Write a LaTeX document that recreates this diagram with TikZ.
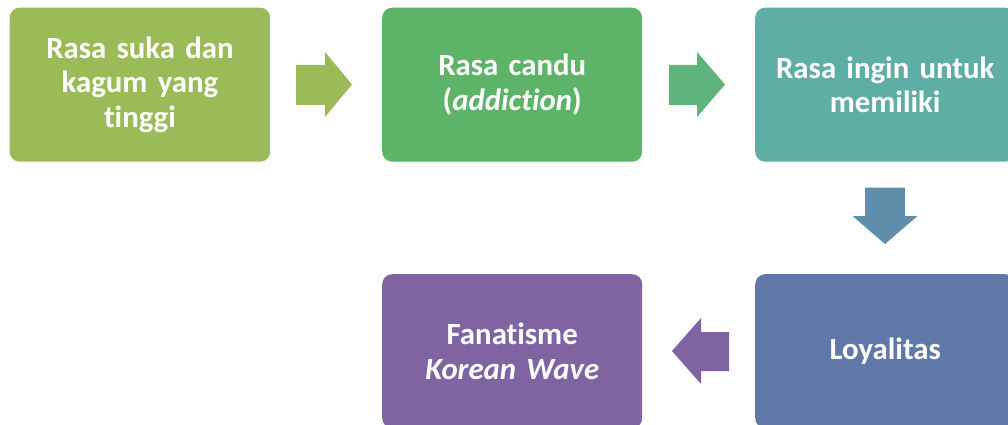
\documentclass[tikz,border=0pt]{standalone}
\usepackage{fontspec}
\setmainfont{Carlito}[Ligatures=NoCommon]
\definecolor{cA}{HTML}{9BBB59}
\definecolor{cB}{HTML}{5DB468}
\definecolor{cAB}{HTML}{5EB47B}
\definecolor{cC}{HTML}{5FAEA6}
\definecolor{cCD}{HTML}{5F8EAB}
\definecolor{cD}{HTML}{6078A8}
\definecolor{cE}{HTML}{8064A2}
\tikzset{
  box/.style={rounded corners=10pt, minimum width=260pt, minimum height=154pt,
    text=white, font=\fontsize{30.8}{34.5}\selectfont\bfseries, align=center,
    anchor=north west, inner sep=0pt, text width=255pt},
  blockarrow/.style={draw=none}
}
\begin{document}
\begin{tikzpicture}[x=1pt,y=-1pt]
\useasboundingbox (0,0) rectangle (1008,425);
\clip (0,0) rectangle (1008,425);
\node[box, fill=cA, minimum width=260.5pt] (b1) at (9.5,7.5) {Rasa suka dan\\kagum yang\\tinggi};
\node[box, fill=cB] (b2) at (382,7.5) {Rasa candu\\(\textit{addiction})};
\node[box, fill=cC] (b3) at (755,7.5) {Rasa ingin untuk\\memiliki};
\node[box, fill=cD] (b4) at (755,274) {Loyalitas};
\node[box, fill=cE] (b5) at (382,274) {Fanatisme\\\textit{Korean Wave}};
\fill[cA] (296,65) -- (325,65) -- (325,52) -- (352,84.5) -- (325,117) -- (325,105) -- (296,105) -- cycle;
\fill[cAB] (669,65) -- (697,65) -- (697,52) -- (725,84.5) -- (697,117) -- (697,105) -- (669,105) -- cycle;
\fill[cCD] (865,187.5) -- (905,187.5) -- (905,216) -- (917.5,216) -- (885,244) -- (852.5,216) -- (865,216) -- cycle;
\fill[cE] (729,332) -- (701,332) -- (701,318) -- (672,351) -- (701,384) -- (701,371) -- (729,371) -- cycle;
\end{tikzpicture}
\end{document}
